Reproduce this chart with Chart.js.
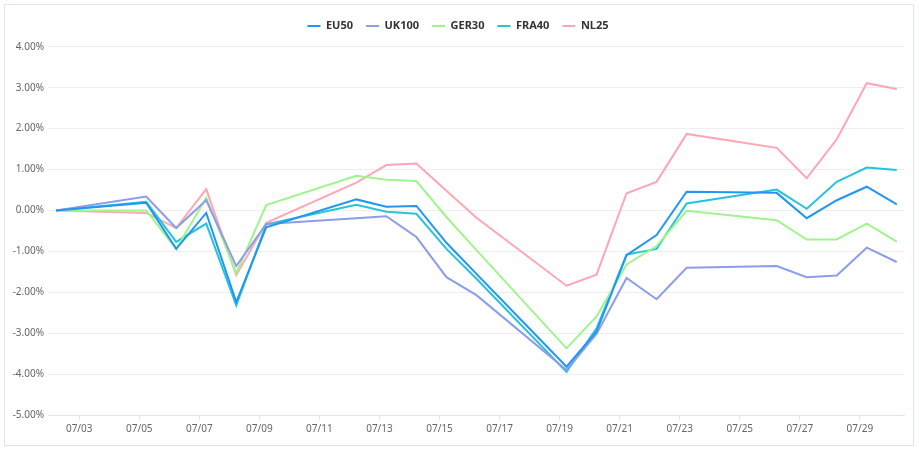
<!DOCTYPE html>
<html>
<head>
<meta charset="utf-8">
<script src="https://cdn.jsdelivr.net/npm/chart.js@4"></script>
<style>
  html, body { margin: 0; padding: 0; background: #fff; }
  #wrap { position: absolute; left: 0; top: 0; width: 919px; height: 451px; }
  #frame { position: absolute; left: 4px; top: 4px; width: 908px; height: 440px;
           border: 1px solid #dfe5ea; pointer-events: none; }
</style>
</head>
<body>
<div id="wrap"><canvas id="grafico"></canvas></div>
<div id="frame"></div>
<script>
// trading days (July)
const fechas = ["07/02", "07/05", "07/06", "07/07", "07/08", "07/09", "07/12", "07/13", "07/14", "07/15",
    "07/16", "07/19", "07/20", "07/21", "07/22", "07/23", "07/26", "07/27", "07/28", "07/29", "07/30"];

// cumulative change, %
const eu50  = [0, 0.19, -0.94, -0.06, -2.24, -0.41, 0.27, 0.09, 0.11, -0.79, -1.55, -3.82, -2.96, -1.09, -0.60, 0.46, 0.43, -0.19, 0.25, 0.58, 0.15];
const uk100 = [0, 0.34, -0.43, 0.25, -1.36, -0.33, -0.19, -0.14, -0.65, -1.63, -2.07, -3.90, -3.02, -1.65, -2.17, -1.40, -1.36, -1.63, -1.59, -0.91, -1.26];
const ger30 = [0, 0.00, -0.94, 0.31, -1.53, 0.13, 0.85, 0.75, 0.72, -0.16, -0.97, -3.37, -2.59, -1.32, -0.87, -0.01, -0.24, -0.71, -0.71, -0.32, -0.76];
const fra40 = [0, 0.21, -0.77, -0.32, -2.32, -0.34, 0.14, -0.03, -0.08, -0.94, -1.67, -3.95, -2.88, -1.08, -0.94, 0.17, 0.51, 0.04, 0.70, 1.05, 0.99];
const nl25  = [0, -0.06, -0.43, 0.52, -1.58, -0.30, 0.68, 1.11, 1.15, 0.48, -0.18, -1.84, -1.57, 0.42, 0.70, 1.87, 1.53, 0.79, 1.74, 3.11, 2.97];

const etiquetasX = ["07/03", "07/05", "07/07", "07/09", "07/11", "07/13", "07/15", "07/17", "07/19", "07/21", "07/23", "07/25", "07/27", "07/29"];
const etiquetasY = [-5, -4, -3, -2, -1, 0, 1, 2, 3, 4];

const series = [
    { nombre: "EU50",  datos: eu50,  color: "#2196f3" },
    { nombre: "UK100", datos: uk100, color: "#8c9de9" },
    { nombre: "GER30", datos: ger30, color: "#9ef58b" },
    { nombre: "FRA40", datos: fra40, color: "#26c4da" },
    { nombre: "NL25",  datos: nl25,  color: "#ffa6b4" }
];

// points sit a little after midnight of their day
const desfase = 0.23;
const dia = s => parseInt(s.slice(3), 10);

const fuente = "'Noto Sans', 'Open Sans', sans-serif";

new Chart(document.getElementById("grafico"), {
    type: "line",
    data: {
        datasets: series.map(s => ({
            label: s.nombre,
            data: fechas.map((f, i) => ({ x: dia(f) + desfase, y: s.datos[i] })),
            borderColor: s.color,
            backgroundColor: s.color,
            borderWidth: 2,
            pointRadius: 0,
            tension: 0
        }))
    },
    options: {
        responsive: true,
        maintainAspectRatio: false,
        animation: false,
        layout: { padding: { top: 7.5, right: 15, bottom: 5, left: 12 } },
        plugins: {
            legend: {
                position: "top",
                labels: {
                    boxWidth: 13,
                    boxHeight: 2,
                    padding: 13,
                    color: "#333",
                    font: { family: fuente, size: 11, weight: "bold" },
                    generateLabels: chart =>
                        Chart.defaults.plugins.legend.labels.generateLabels(chart)
                            .map(l => ({ ...l, lineWidth: 0 }))
                }
            },
            tooltip: { enabled: false }
        },
        scales: {
            x: {
                type: "linear",
                min: dia(fechas[0]) + desfase - 0.27,
                max: dia(fechas[fechas.length - 1]) + desfase + 0.24,
                afterBuildTicks: ax => {
                    ax.ticks = etiquetasX.map(t => ({ value: dia(t) }));
                },
                afterFit: ax => { ax.height = 31; },
                ticks: {
                    autoSkip: false,
                    maxRotation: 0,
                    padding: 3,
                    color: "#666",
                    font: { family: fuente, size: 10 },
                    callback: v => "07/" + String(v).padStart(2, "0")
                },
                grid: { drawOnChartArea: false, tickLength: 5, color: "#e0e6f1" },
                border: { color: "#e0e6f1" }
            },
            y: {
                min: -5,
                max: 4.13,
                afterBuildTicks: ax => {
                    ax.ticks = etiquetasY.map(v => ({ value: v }));
                },
                afterFit: ax => { ax.width = 36; },
                ticks: {
                    padding: 4,
                    color: "#666",
                    font: { family: fuente, size: 10 },
                    callback: v => v.toFixed(2) + "%"
                },
                grid: { color: "#eeeeee", drawTicks: false },
                border: { display: false }
            }
        }
    }
});
</script>
</body>
</html>
